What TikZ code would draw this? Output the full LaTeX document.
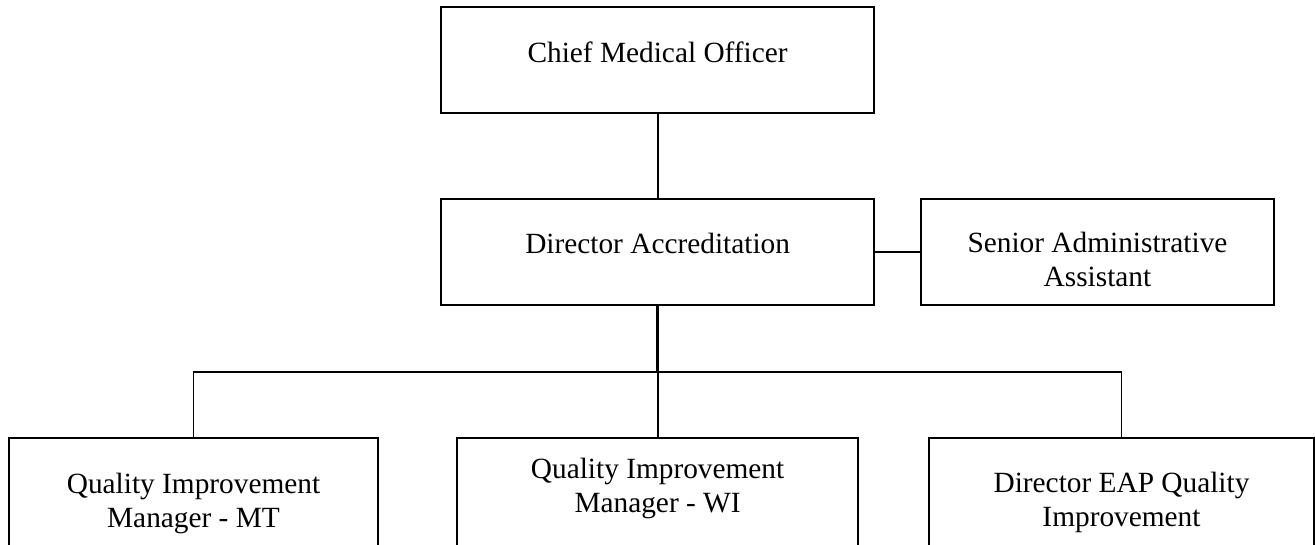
\documentclass[tikz,border=0pt]{standalone}
\usepackage{fontspec}
\setmainfont{Liberation Serif}
\usetikzlibrary{positioning}

\begin{document}
\begin{tikzpicture}[x=0.75pt, y=-0.75pt,
  box/.style={draw, line width=1.4pt, inner sep=0pt, minimum height=79.3pt},
  lbl/.style={font=\fontsize{22}{25.5}\selectfont, align=center, anchor=base, inner sep=0pt},
  link/.style={line width=1.4pt}]
  \useasboundingbox (0,0) rectangle (1315,544);
  \clip (0,0) rectangle (1315,544); % lower boxes run off the page

  % Top two levels
  \node[box, minimum width=324.5pt] (cmo) at (657.6,60.2) {};
  \node[box, minimum width=324.5pt] (dir) at (657.6,252.2) {};
  \node[box, minimum width=264.8pt] (sec) at (1097.5,252.2) {};

  % Bottom row (taller, cut by the clip)
  \node[box, minimum width=276.3pt, minimum height=100pt] (qmt) at (193.5,505) {};
  \node[box, minimum width=300.3pt, minimum height=100pt] (qwi) at (657.6,505) {};
  \node[box, minimum width=288.3pt, minimum height=100pt] (qeap) at (1121.5,505) {};

  % Box texts (base = last line)
  \node[lbl] (cmotxt) at (657.6,62) {Chief Medical Officer};
  \node[lbl] (dirtxt) at (657.6,253) {Director Accreditation};
  \node[lbl] (sectxt) at (1097.5,286.7) {Senior Administrative\\Assistant};
  \node[lbl] (qmttxt) at (193.5,527) {Quality Improvement\\Manager - MT};
  \node[lbl] (qwitxt) at (657.6,512) {Quality Improvement\\Manager - WI};
  \node[lbl] (qeaptxt) at (1121.5,526) {Director EAP Quality\\Improvement};

  % Connectors
  \coordinate (bar) at (657.6,372.3);
  \draw[link] (cmo) -- (dir);
  \draw[link] (dir) -- (sec);
  \draw[link, line width=2pt] (dir.south) -- (bar); % stem to the bar
  \draw[link] (qmt.north) -- (qmt.north |- bar) -- (qeap.north |- bar) -- (qeap.north);
  \draw[link] (bar) -- (qwi.north);
\end{tikzpicture}
\end{document}
